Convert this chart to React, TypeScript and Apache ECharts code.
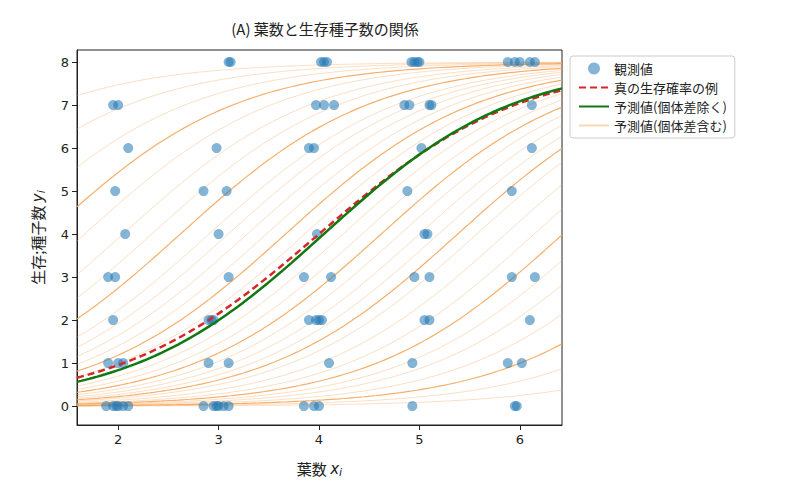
import { useEffect, useRef } from 'react'
import * as echarts from 'echarts'

// 観測値 [x, y]
const observed: [number, number][] = [
  [1.95, 7], [2.0, 7], [1.97, 5], [2.1, 6], [2.07, 4], [1.9, 3], [1.97, 3], [1.95, 2],
  [1.9, 1], [2.0, 1], [2.05, 1], [1.88, 0], [1.95, 0], [2.0, 0], [2.05, 0], [2.1, 0], [1.98, 0],
  [3.1, 8], [3.12, 8], [2.98, 6], [2.85, 5], [3.08, 5], [3.0, 4], [3.1, 3], [2.9, 2], [2.93, 2],
  [2.95, 2], [2.9, 1], [3.1, 1], [2.85, 0], [2.95, 0], [3.0, 0], [3.05, 0], [3.1, 0], [2.98, 0],
  [4.02, 8], [4.05, 8], [4.08, 8], [3.97, 7], [4.05, 7], [4.15, 7], [3.9, 6], [3.95, 6],
  [3.98, 4], [3.85, 3], [4.12, 3], [3.9, 2], [3.97, 2], [4.0, 2], [4.03, 2], [4.1, 1],
  [3.85, 0], [3.95, 0], [4.0, 0],
  [4.92, 8], [4.95, 8], [4.98, 8], [5.0, 8], [4.85, 7], [4.9, 7], [5.1, 7], [5.12, 7],
  [5.02, 6], [4.88, 5], [5.05, 4], [5.08, 4], [4.95, 3], [5.1, 3], [5.05, 2], [5.1, 2],
  [4.93, 1], [4.93, 0],
  [5.88, 8], [5.95, 8], [6.0, 8], [6.1, 8], [6.15, 8], [6.12, 7], [6.12, 6], [5.92, 5],
  [5.92, 3], [6.15, 3], [6.1, 2], [5.88, 1], [6.02, 1], [5.95, 0], [5.97, 0],
]

// ロジスティック曲線のパラメータ (切片, 傾き)
const trueParams = { a: -4.0, b: 1.0 }
const predParams = { a: -4.25, b: 1.05 }
// 個体差 r_i (読み取り推定)
const individualEffects = [
  -5.5, -4.6, -4.0, -3.5, -3.1, -2.8, -2.5, -2.2, -1.9, -1.6, -1.4, -1.2, -1.0, -0.8,
  -0.6, -0.4, -0.2, 0.0, 0.2, 0.4, 0.6, 0.8, 1.0, 1.2, 1.5, 1.8, 2.1, 2.5, 2.9, 3.4, 4.0, 4.8,
]
const boldEffects = [-4.0, -2.5, -1.4, -0.6, 0.4, 1.5, 2.9]

const N = 8
const X_MIN = 1.59
const X_MAX = 6.42
const xGrid = Array.from({ length: 121 }, (_, i) => X_MIN + ((X_MAX - X_MIN) * i) / 120)
const curve = (a: number, b: number) =>
  xGrid.map((x) => [x, N / (1 + Math.exp(-(a + b * x)))])

const font = "'Noto Sans CJK JP', 'DejaVu Sans', sans-serif"
const noSymbol = { itemStyle: { opacity: 0 } }

export default function App() {
  const ref = useRef<HTMLDivElement>(null)

  useEffect(() => {
    document.body.style.margin = '0'
    if (!ref.current) return
    const chart = echarts.init(ref.current, null, { renderer: 'svg' })

    const orange: echarts.SeriesOption[] = individualEffects.map((r) => ({
      name: '予測値(個体差含む)',
      type: 'line' as const,
      symbol: 'none',
      silent: true,
      lineStyle: {
        color: '#f5a55a',
        width: boldEffects.includes(r) ? 1.2 : 0.8,
        opacity: boldEffects.includes(r) ? 0.9 : 0.45,
      },
      itemStyle: { color: '#f5a55a' },
      z: 1,
      data: curve(predParams.a + r, predParams.b),
    }))

    chart.setOption({
      animation: false,
      title: {
        text: '(A) 葉数と生存種子数の関係',
        left: 320,
        textAlign: 'center',
        top: 16,
        textStyle: { fontFamily: font, fontSize: 15, fontWeight: 'normal', color: '#222' },
      },
      legend: {
        left: 570,
        top: 56,
        orient: 'vertical',
        itemGap: 6,
        itemWidth: 30,
        itemHeight: 12,
        padding: [6, 8],
        borderColor: '#ccc',
        borderWidth: 1,
        borderRadius: 3,
        textStyle: { fontFamily: font, fontSize: 13, color: '#222' },
        data: [
          { name: '観測値' },
          { name: '真の生存確率の例', ...noSymbol },
          { name: '予測値(個体差除く)', ...noSymbol },
          { name: '予測値(個体差含む)', ...noSymbol },
        ],
      },
      grid: { left: 77, right: 237, top: 50, bottom: 70, show: true, borderColor: '#222', borderWidth: 1 },
      xAxis: {
        type: 'value',
        min: X_MIN,
        max: X_MAX,
        name: '{a|葉数 }{b|x}{c|i}',
        nameLocation: 'middle',
        nameGap: 34,
        nameTextStyle: {
          rich: {
            a: { fontFamily: font, fontSize: 15, color: '#222' },
            b: { fontFamily: 'DejaVu Sans', fontStyle: 'italic', fontSize: 15, color: '#222' },
            c: { fontFamily: 'DejaVu Sans', fontStyle: 'italic', fontSize: 11, color: '#222', padding: [8, 0, 0, 0] },
          },
        },
        splitLine: { show: false },
        axisLine: { onZero: false, lineStyle: { color: '#222' } },
        axisTick: { show: true, customValues: [2, 3, 4, 5, 6], lineStyle: { color: '#222' } },
        axisLabel: { customValues: [2, 3, 4, 5, 6], fontSize: 13, color: '#222', fontFamily: 'DejaVu Sans' },
      },
      yAxis: {
        type: 'value',
        min: -0.44,
        max: 8.28,
        name: '{a|生存;種子数 }{b|y}{c|i}',
        nameLocation: 'middle',
        nameGap: 30,
        nameRotate: 90,
        nameTextStyle: {
          rich: {
            a: { fontFamily: font, fontSize: 15, color: '#222' },
            b: { fontFamily: 'DejaVu Sans', fontStyle: 'italic', fontSize: 15, color: '#222' },
            c: { fontFamily: 'DejaVu Sans', fontStyle: 'italic', fontSize: 11, color: '#222', padding: [8, 0, 0, 0] },
          },
        },
        splitLine: { show: false },
        axisLine: { show: true, onZero: false, lineStyle: { color: '#222' } },
        axisTick: { show: true, customValues: [0, 1, 2, 3, 4, 5, 6, 7, 8], lineStyle: { color: '#222' } },
        axisLabel: {
          customValues: [0, 1, 2, 3, 4, 5, 6, 7, 8],
          fontSize: 13,
          color: '#222',
          fontFamily: 'DejaVu Sans',
        },
      },
      series: [
        {
          name: '観測値',
          type: 'scatter',
          symbolSize: 10,
          itemStyle: { color: '#1f77b4', opacity: 0.55 },
          z: 3,
          data: observed,
        },
        {
          name: '真の生存確率の例',
          type: 'line',
          symbol: 'none',
          lineStyle: { color: '#d62728', width: 2.5, type: [7, 4] },
          itemStyle: { color: '#d62728' },
          z: 4,
          data: curve(trueParams.a, trueParams.b),
        },
        {
          name: '予測値(個体差除く)',
          type: 'line',
          symbol: 'none',
          lineStyle: { color: '#127812', width: 2.5 },
          itemStyle: { color: '#127812' },
          z: 4,
          data: curve(predParams.a, predParams.b),
        },
        ...orange,
      ],
    } as echarts.EChartsOption)

    return () => chart.dispose()
  }, [])

  return <div ref={ref} style={{ width: '799px', height: '495px' }} />
}
